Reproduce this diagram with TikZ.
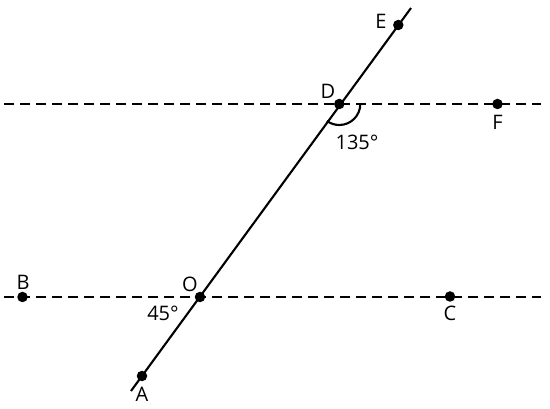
\documentclass[tikz,border=0pt]{standalone}
\usepackage{fontspec}
\setmainfont{Open Sans}
\begin{document}
\begin{tikzpicture}[x=1pt,y=-1pt,
  dot/.style={circle,fill=black,inner sep=0pt,minimum size=10.5pt},
  lbl/.style={font=\fontsize{20}{24}\selectfont,inner sep=0pt},
  dline/.style={line width=2.1pt,dash pattern=on 9.5pt off 6.5pt},
  sline/.style={line width=2.1pt}]
\useasboundingbox (0,0) rectangle (550,409);
% points
\node[dot] (E) at (398.3,25) {};
\node[dot] (D) at (339.3,104) {};
\node[dot] (F) at (497.5,104) {};
\node[dot] (B) at (22.5,297) {};
\node[dot] (O) at (200,297) {};
\node[dot] (C) at (450,296.5) {};
\node[dot] (A) at (142,376) {};
\coordinate (Etop) at (411,8);
\coordinate (Abot) at (131,391);
\coordinate (L1) at (4,104);
\coordinate (R1) at (541,104);
\coordinate (L2) at (4,297);
\coordinate (R2) at (541,297);
% lines
\draw[dline] (L1) -- (R1);
\draw[dline] (L2) -- (R2);
\draw[sline] (Abot) -- (Etop);
% angle arc at D
\draw[line width=2.1pt] ([shift={(0:21)}]D.center) arc[start angle=0,end angle=126,radius=21];
% labels
\node[lbl] at (381,21) {E};
\node[lbl] at (328,91) {D};
\node[lbl] at (497.5,122) {F};
\node[lbl] at (23,282) {B};
\node[lbl] at (190,284) {O};
\node[lbl] at (450,313) {C};
\node[lbl] at (142,394) {A};
\node[lbl] at (357,142) {135°};
\node[lbl] at (163,313) {45°};
\end{tikzpicture}
\end{document}
